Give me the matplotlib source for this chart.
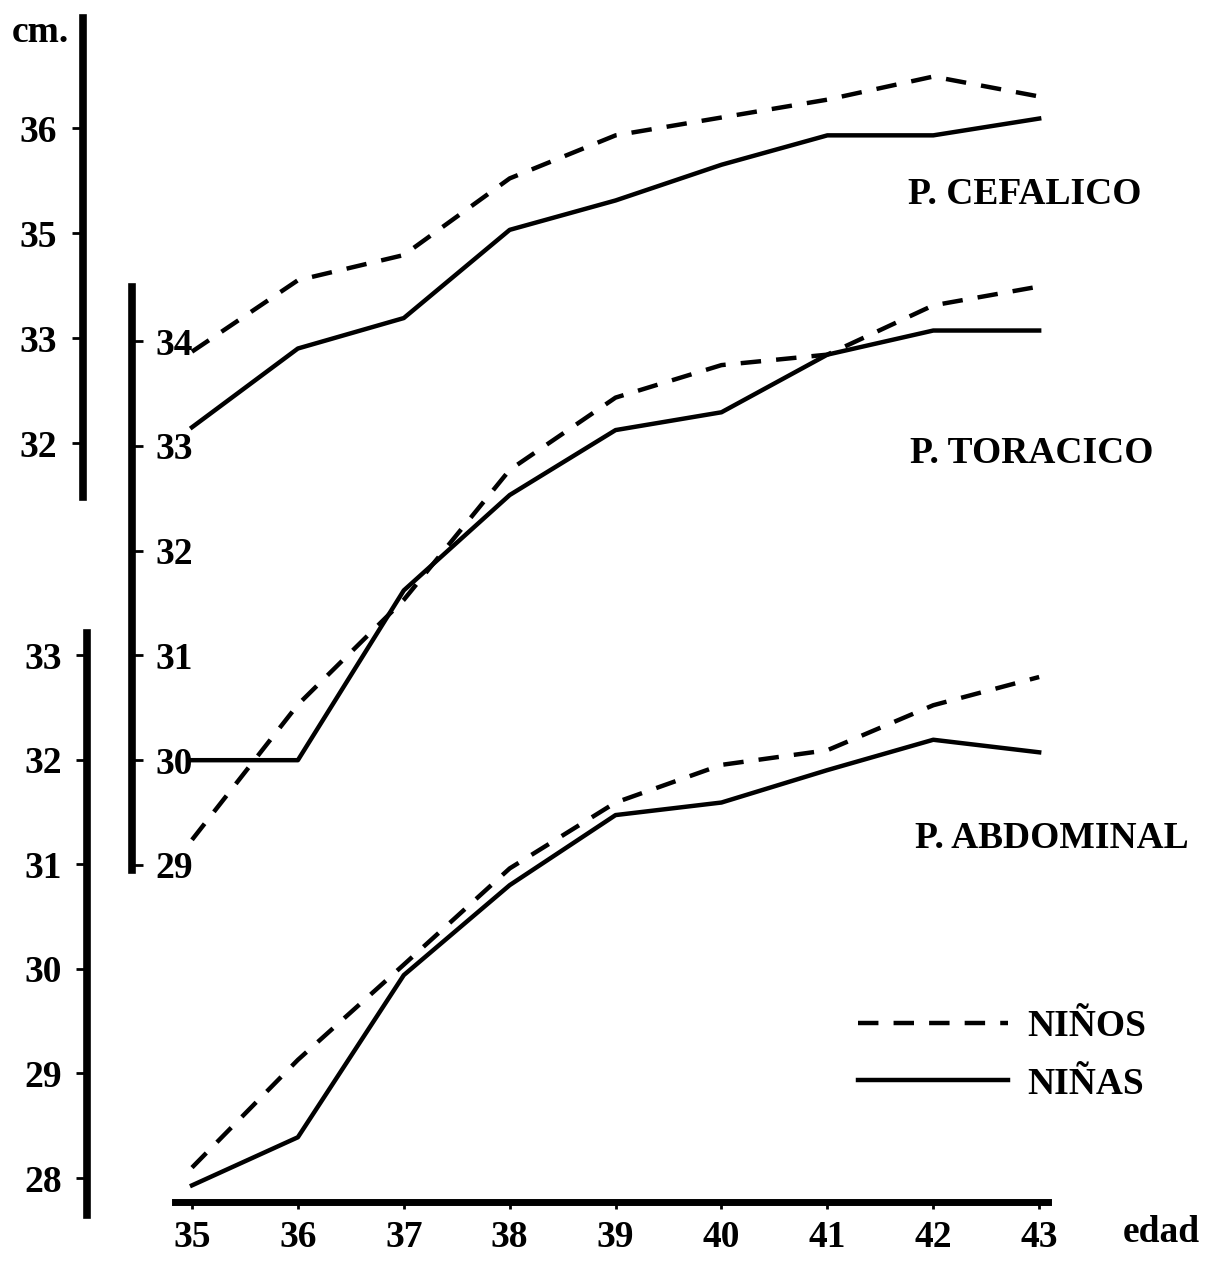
import matplotlib
matplotlib.use("Agg")
import matplotlib.pyplot as plt

plt.rcParams["font.family"] = ["Liberation Serif", "DejaVu Serif"]
plt.rcParams["font.weight"] = "bold"

# edad gestacional (semanas)
edad = [35, 36, 37, 38, 39, 40, 41, 42, 43]

# perimetro cefalico
cef_ninos = [33.87, 34.55, 34.79, 35.52, 35.93, 36.10, 36.27, 36.49, 36.30]
cef_ninas = [33.15, 33.90, 34.19, 35.03, 35.31, 35.65, 35.93, 35.93, 36.09]

# perimetro toracico
tor_ninos = [29.24, 30.53, 31.53, 32.77, 33.46, 33.77, 33.87, 34.34, 34.52]
tor_ninas = [30.00, 30.00, 31.62, 32.53, 33.15, 33.32, 33.87, 34.10, 34.10]

# perimetro abdominal
abd_ninos = [28.10, 29.13, 30.04, 30.96, 31.59, 31.95, 32.09, 32.52, 32.79]
abd_ninas = [27.93, 28.39, 29.94, 30.80, 31.47, 31.59, 31.90, 32.19, 32.07]

cef_ticks = [36, 35, 34, 33]
cef_labels = ["36", "35", "33", "32"]
tor_ticks = [34, 33, 32, 31, 30, 29]
abd_ticks = [33, 32, 31, 30, 29, 28]

FS = 27
LW = 3.2
DASH = (0, (4.6, 3.4))

fig = plt.figure(figsize=(12.05, 12.61), dpi=100)


def new_axes(ylim):
    ax = fig.add_axes([0, 0, 1, 1])
    ax.set_xlim(33.187, 44.566)
    ax.set_ylim(*ylim)
    ax.patch.set_visible(False)
    for s in ax.spines.values():
        s.set_visible(False)
    ax.set_xticks([])
    return ax


ax_cef = new_axes((25.21, 37.219))
ax_tor = new_axes((25.221, 37.254))
ax_abd = new_axes((27.207, 39.262))

# eje x (edad)
ax_cef.set_xticks(edad)
ax_cef.spines["bottom"].set_visible(True)
ax_cef.spines["bottom"].set_position(("axes", 59 / 1261))
ax_cef.spines["bottom"].set_bounds(34.84, 43.08)
ax_cef.spines["bottom"].set_linewidth(5)
ax_cef.tick_params(axis="x", direction="out", length=5, width=2,
                   labelsize=FS, pad=8)

# eje cefalico
sp = ax_cef.spines["left"]
sp.set_visible(True)
sp.set_position(("axes", 83 / 1205))
sp.set_bounds(32.49, 37.05)
sp.set_linewidth(5.5)
ax_cef.set_yticks(cef_ticks)
ax_cef.set_yticklabels(cef_labels)
ax_cef.tick_params(axis="y", direction="out", length=8, width=2,
                   labelsize=FS, pad=11)

# eje toracico (marcas y numeros a la derecha)
sp = ax_tor.spines["right"]
sp.set_visible(True)
sp.set_position(("axes", 132 / 1205))
sp.set_bounds(28.95, 34.515)
sp.set_linewidth(5.5)
ax_tor.yaxis.tick_right()
ax_tor.set_yticks(tor_ticks)
ax_tor.tick_params(axis="y", direction="out", length=8, width=2,
                   labelsize=FS, pad=9)

# eje abdominal
sp = ax_abd.spines["left"]
sp.set_visible(True)
sp.set_position(("axes", 87 / 1205))
sp.set_bounds(27.646, 33.21)
sp.set_linewidth(5.5)
ax_abd.set_yticks(abd_ticks)
ax_abd.tick_params(axis="y", direction="out", length=8, width=2,
                   labelsize=FS, pad=10)

# curvas
ax_cef.plot(edad, cef_ninos, color="black", lw=LW, linestyle=DASH)
ax_cef.plot(edad, cef_ninas, color="black", lw=LW)
ax_tor.plot(edad, tor_ninos, color="black", lw=LW, linestyle=DASH)
ax_tor.plot(edad, tor_ninas, color="black", lw=LW)
ax_abd.plot(edad, abd_ninos, color="black", lw=LW, linestyle=DASH,
            label="NIÑOS")
ax_abd.plot(edad, abd_ninas, color="black", lw=LW, label="NIÑAS")

# rotulos
fig.text(12 / 1205, 1 - 32 / 1261, "cm.", fontsize=FS,
         va="center", ha="left")
fig.text(1200 / 1205, 1 - 1232 / 1261, "edad", fontsize=FS,
         va="center", ha="right")
fig.text(908 / 1205, 1 - 195 / 1261, "P. CEFALICO", fontsize=FS,
         va="center", ha="left")
fig.text(910 / 1205, 1 - 453 / 1261, "P. TORACICO", fontsize=FS,
         va="center", ha="left")
fig.text(915 / 1205, 1 - 838 / 1261, "P. ABDOMINAL", fontsize=FS,
         va="center", ha="left")

ax_abd.legend(loc="upper left", bbox_to_anchor=(858 / 1205, 1 - 1009 / 1261),
              bbox_transform=fig.transFigure, frameon=False, fontsize=FS,
              handlelength=4.0, handletextpad=0.5, labelspacing=0.6,
              borderpad=0, borderaxespad=0)

fig.savefig("out.png", dpi=100)
